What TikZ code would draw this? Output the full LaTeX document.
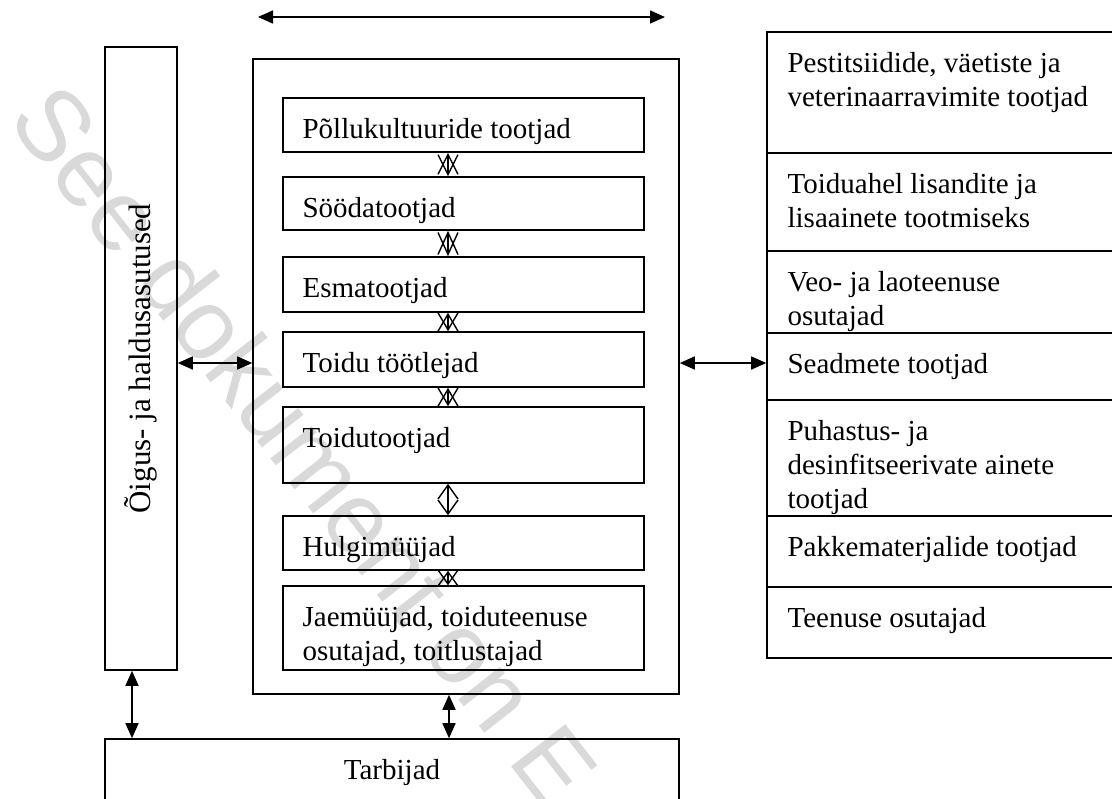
\documentclass[tikz,border=0pt]{standalone}
\usepackage{fontspec}
\setmainfont{Liberation Serif}
\newfontfamily\wmfont{Liberation Sans}
\usetikzlibrary{arrows.meta,fit}
\begin{document}
\begin{tikzpicture}[x=0.5pt,y=-0.5pt,
  box/.style={draw, line width=0.8pt, inner sep=0pt},
  lbl/.style={anchor=north west, inner sep=0pt, align=left, xshift=10pt, yshift=-8.5pt, font=\fontsize{14.5}{17}\selectfont},
  big/.style={line width=0.8pt, {Triangle[length=7.5pt,width=6.5pt]}-{Triangle[length=7.5pt,width=6.5pt]}},
  xlink/.style={line width=0.7pt, {Straight Barb[length=#1,width=10pt]}-{Straight Barb[length=#1,width=10pt]}}
]
\useasboundingbox (0,0) rectangle (1112,798);
\clip (0,0) rectangle (1112,798);

% left authority box
\node[box, fit={(105,47) (177,670)}] (gov) {};
\node[rotate=90, inner sep=0pt, font=\fontsize{15.5}{18}\selectfont] (govt) at (gov.center) {Õigus- ja haldusasutused};

% main box
\node[box, fit={(253,59) (679,694)}] (main) {};
\node[box, fit={(283,98) (644,152)}] (b1) {};
\node[box, fit={(283,177) (644,230)}] (b2) {};
\node[box, fit={(283,257) (644,312)}] (b3) {};
\node[box, fit={(283,332) (644,387)}] (b4) {};
\node[box, fit={(283,407) (644,483)}] (b5) {};
\node[box, fit={(283,516) (644,570)}] (b6) {};
\node[box, fit={(283,586) (644,670)}] (b7) {};
\node[lbl] (t1) at (b1.north west) {\strut Põllukultuuride tootjad};
\node[lbl] (t2) at (b2.north west) {\strut Söödatootjad};
\node[lbl] (t3) at (b3.north west) {\strut Esmatootjad};
\node[lbl] (t4) at (b4.north west) {\strut Toidu töötlejad};
\node[lbl] (t5) at (b5.north west) {\strut Toidutootjad};
\node[lbl] (t6) at (b6.north west) {\strut Hulgimüüjad};
\node[lbl] (t7) at (b7.north west) {\strut Jaemüüjad, toiduteenuse\\osutajad, toitlustajad};

% right column
\node[box, fit={(767,32) (1130,153)}] (r1) {};
\node[box, fit={(767,153) (1130,251)}] (r2) {};
\node[box, fit={(767,251) (1130,333)}] (r3) {};
\node[box, fit={(767,333) (1130,400)}] (r4) {};
\node[box, fit={(767,400) (1130,516)}] (r5) {};
\node[box, fit={(767,516) (1130,587)}] (r6) {};
\node[box, fit={(767,587) (1130,658)}] (r7) {};
\node[lbl, xshift=0.5pt] (s1) at (r1.north west) {\strut Pestitsiidide, väetiste ja\\veterinaarravimite tootjad};
\node[lbl, xshift=0.5pt] (s2) at (r2.north west) {\strut Toiduahel lisandite ja\\lisaainete tootmiseks};
\node[lbl, xshift=0.5pt] (s3) at (r3.north west) {\strut Veo- ja laoteenuse\\osutajad};
\node[lbl, xshift=0.5pt] (s4) at (r4.north west) {\strut Seadmete tootjad};
\node[lbl, xshift=0.5pt] (s5) at (r5.north west) {\strut Puhastus- ja\\desinfitseerivate ainete\\tootjad};
\node[lbl, xshift=0.5pt] (s6) at (r6.north west) {\strut Pakkematerjalide tootjad};
\node[lbl, xshift=0.5pt] (s7) at (r7.north west) {\strut Teenuse osutajad};

% consumers
\node[box, fit={(105,739) (679,830)}] (tarb) {};
\node[anchor=north, inner sep=0pt, yshift=-8.5pt, font=\fontsize{14.5}{17}\selectfont] (tarbt) at (tarb.north) {\strut Tarbijad};

% helper coordinates
\coordinate (tl) at (258,17);
\coordinate (tr) at (665,17);
\coordinate (ay) at (0,363);
\coordinate (bx) at (449,0);
\coordinate (gx) at (132,0);
\coordinate (cx) at (448,0);

% connectors
\draw[big] (tl) -- (tr);
\draw[big] (gov.east |- ay) -- (main.west |- ay);
\draw[big] (main.east |- ay) -- (r4.west |- ay);
\draw[big] (main.south -| bx) -- (tarb.north -| bx);
\draw[big] (gov.south -| gx) -- (tarb.north -| gx);

\draw[xlink=10pt] (b1.south -| cx) -- (b2.north -| cx);
\draw[xlink=11pt] (b2.south -| cx) -- (b3.north -| cx);
\draw[xlink=8.5pt] (b3.south -| cx) -- (b4.north -| cx);
\draw[xlink=8.5pt] (b4.south -| cx) -- (b5.north -| cx);
\draw[xlink=7pt] (b5.south -| cx) -- (b6.north -| cx);
\draw[xlink=7pt] (b6.south -| cx) -- (b7.north -| cx);

% watermark
\node[rotate=-52, text=black, text opacity=0.15, inner sep=0pt, font=\wmfont\fontsize{50}{60}\selectfont] (wm) at (305,445) {See dokument on E};
\end{tikzpicture}
\end{document}
